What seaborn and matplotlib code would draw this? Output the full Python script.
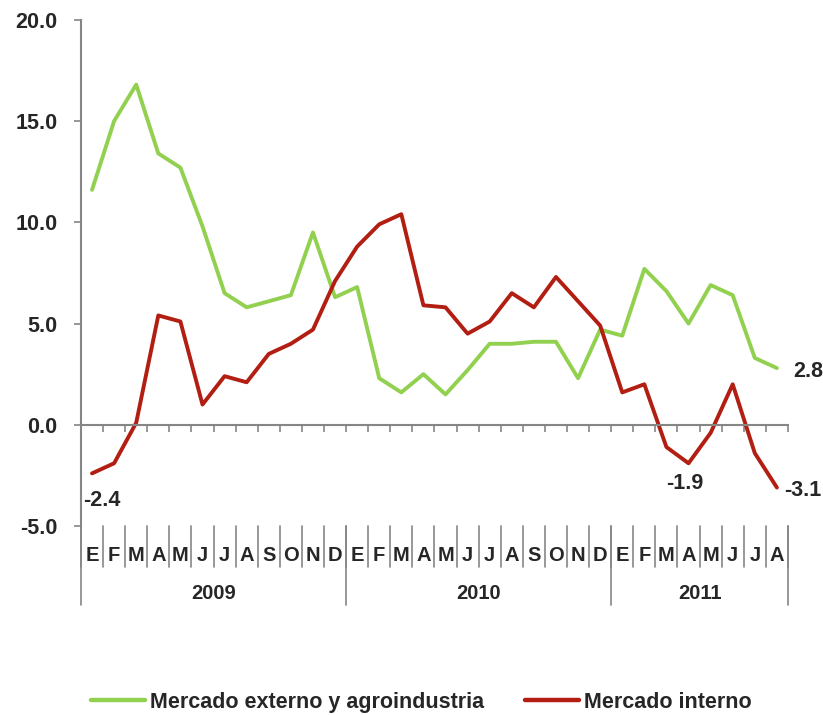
import numpy as np
import pandas as pd
import matplotlib.pyplot as plt
import seaborn as sns

# meses (ene 2009 - ago 2011)
meses = ["E", "F", "M", "A", "M", "J", "J", "A", "S", "O", "N", "D"] * 2 + \
        ["E", "F", "M", "A", "M", "J", "J", "A"]
anios = ["2009", "2010", "2011"]
meses_por_anio = [12, 12, 8]

externo = [11.6, 15.0, 16.8, 13.4, 12.7, 9.8, 6.5, 5.8, 6.1, 6.4, 9.5, 6.3,
           6.8, 2.3, 1.6, 2.5, 1.5, 2.7, 4.0, 4.0, 4.1, 4.1, 2.3, 4.7,
           4.4, 7.7, 6.6, 5.0, 6.9, 6.4, 3.3, 2.8]
interno = [-2.4, -1.9, 0.1, 5.4, 5.1, 1.0, 2.4, 2.1, 3.5, 4.0, 4.7, 7.1,
           8.8, 9.9, 10.4, 5.9, 5.8, 4.5, 5.1, 6.5, 5.8, 7.3, 6.1, 4.9,
           1.6, 2.0, -1.1, -1.9, -0.4, 2.0, -1.4, -3.1]

serie_ext = "Mercado externo y agroindustria"
serie_int = "Mercado interno"

n = len(meses)
df = pd.DataFrame({
    "idx": list(range(n)) * 2,
    "valor": externo + interno,
    "serie": [serie_ext] * n + [serie_int] * n,
})

sns.set_style("white")
plt.rcParams["font.family"] = ["Liberation Sans", "DejaVu Sans"]
plt.rcParams["font.weight"] = "bold"

GRIS = "#868686"
FS = 15.5
fig = plt.figure(figsize=(8.23, 7.15), dpi=100)
ax = fig.add_axes([0.0984, 0.2643, 0.859, 0.708])

sns.lineplot(data=df, x="idx", y="valor", hue="serie",
             palette={serie_ext: "#92D050", serie_int: "#B21E12"},
             linewidth=2.8, ax=ax)

ax.set_xlim(-0.5, n - 0.5)
ax.set_ylim(-5, 20)
ax.set_yticks([-5, 0, 5, 10, 15, 20])
ax.set_yticklabels([f"{v:.1f}" for v in [-5, 0, 5, 10, 15, 20]],
                   fontsize=FS, fontweight="bold")
ax.set_xticks(np.arange(-0.5, n, 1.0))
ax.set_xticklabels([])
ax.tick_params(axis="y", direction="out", length=5, width=1.2, color=GRIS, pad=12, left=True)
ax.tick_params(axis="x", direction="out", length=5, width=1.2, color=GRIS, bottom=True)
ax.set_xlabel("")
ax.set_ylabel("")

for s in ["top", "right"]:
    ax.spines[s].set_visible(False)
ax.spines["bottom"].set_position(("data", 0))
ax.spines["bottom"].set_color(GRIS)
ax.spines["bottom"].set_linewidth(1.5)
ax.spines["left"].set_color(GRIS)
ax.spines["left"].set_linewidth(1.5)

# eje de categorias debajo del grafico
trans = ax.get_xaxis_transform()
for i in range(n + 1):
    ax.plot([i - 0.5, i - 0.5], [0, -0.081], color=GRIS, lw=1.2,
            transform=trans, clip_on=False)
for i, m in enumerate(meses):
    ax.text(i, -0.058, m, transform=trans, ha="center", va="center",
            fontsize=14.5, fontweight="bold")
inicio = 0
for a, k in zip(anios, meses_por_anio):
    ax.plot([inicio - 0.5, inicio - 0.5], [0, -0.156], color=GRIS, lw=1.2,
            transform=trans, clip_on=False)
    ax.text(inicio + k / 2 - 0.5, -0.134, a, transform=trans, ha="center",
            va="center", fontsize=14.5, fontweight="bold")
    inicio += k
ax.plot([n - 0.5, n - 0.5], [0, -0.156], color=GRIS, lw=1.2,
        transform=trans, clip_on=False)

# etiquetas de datos
ax.annotate(f"{interno[0]:.1f}", (0, interno[0]), xytext=(7, -19.5),
            textcoords="offset points", ha="center", va="center",
            fontsize=FS, fontweight="bold", annotation_clip=False)
ax.annotate(f"{interno[27]:.1f}", (27, interno[27]), xytext=(-3, -14.5),
            textcoords="offset points", ha="center", va="center",
            fontsize=FS, fontweight="bold", annotation_clip=False)
ax.annotate(f"{interno[-1]:.1f}", (n - 1, interno[-1]), xytext=(5, -2),
            textcoords="offset points", ha="left", va="center",
            fontsize=FS, fontweight="bold", annotation_clip=False)
ax.annotate(f"{externo[-1]:.1f}", (n - 1, externo[-1]), xytext=(11.5, -2.5),
            textcoords="offset points", ha="left", va="center",
            fontsize=FS, fontweight="bold", annotation_clip=False)

handles, labels = ax.get_legend_handles_labels()
ax.get_legend().remove()
for h in handles:
    h.set_linewidth(3.2)
fig.legend(handles, labels, loc="center", bbox_to_anchor=(0.512, 0.018),
           ncol=2, frameon=False, handlelength=2.5,
           handletextpad=0.25, columnspacing=1.9,
           prop={"weight": "bold", "size": FS})

fig.savefig("out.png", dpi=100)
